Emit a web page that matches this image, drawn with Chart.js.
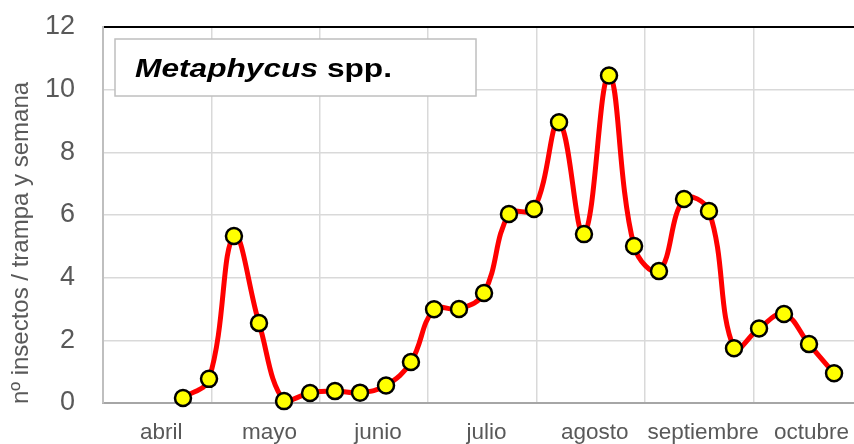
<!DOCTYPE html>
<html>
<head>
<meta charset="utf-8">
<script src="https://cdn.jsdelivr.net/npm/chart.js@4.4.0/dist/chart.umd.min.js"></script>
<style>
  html, body { margin: 0; padding: 0; background: #fff; }
  #wrap { width: 854px; height: 444px; }
</style>
</head>
<body>
<div id="wrap"><canvas id="myChart"></canvas></div>
<script>
// meses (cada mes ocupa una unidad del eje x)
const meses = ['abril', 'mayo', 'junio', 'julio', 'agosto', 'septiembre', 'octubre'];
// posición de cada muestreo semanal (en meses desde el inicio de abril)
const semanas = [0.738, 0.978, 1.208, 1.439, 1.670, 1.910, 2.140, 2.371, 2.611, 2.841,
                 3.054, 3.284, 3.515, 3.745, 3.976, 4.207, 4.437, 4.668, 4.899, 5.129,
                 5.360, 5.590, 5.821, 6.052, 6.282, 6.513, 6.744];
// nº insectos / trampa y semana
const capturas = [0.16, 0.77, 5.33, 2.55, 0.06, 0.32, 0.38, 0.33, 0.56, 1.31,
                  2.99, 3.0, 3.51, 6.03, 6.19, 8.96, 5.39, 10.45, 5.01, 4.21,
                  6.51, 6.13, 1.75, 2.38, 2.84, 1.88, 0.95];
const yTicks = [0, 2, 4, 6, 8, 10, 12];
const tituloY = 'nº insectos / trampa y semana';

const FONT = '"Liberation Sans", Arial, sans-serif';
const GRIS = '#595959';

const puntos = semanas.map((x, i) => ({ x: x, y: capturas[i] }));

const textos = {
  id: 'textos',
  afterDraw(chart) {
    const ctx = chart.ctx;
    ctx.save();
    // titulo del eje y
    ctx.save();
    ctx.translate(21, 243);
    ctx.rotate(-Math.PI / 2);
    ctx.fillStyle = GRIS;
    ctx.font = '24px ' + FONT;
    ctx.textAlign = 'center';
    ctx.textBaseline = 'middle';
    ctx.fillText(tituloY, 0, 0);
    ctx.restore();

    // cuadro con el nombre
    ctx.fillStyle = '#fff';
    ctx.fillRect(115, 39, 361, 57);
    ctx.strokeStyle = '#bfbfbf';
    ctx.lineWidth = 1.5;
    ctx.strokeRect(115, 39, 361, 57);

    ctx.fillStyle = '#000';
    ctx.textBaseline = 'alphabetic';
    const f1 = 'italic bold 26px ' + FONT;
    const f2 = 'bold 26px ' + FONT;
    ctx.font = f1;
    const w1 = ctx.measureText('Metaphycus ').width;
    ctx.font = f2;
    const w2 = ctx.measureText('spp.').width;
    const sx = 257 / (w1 + w2);
    ctx.translate(135, 77);
    ctx.scale(sx, 1);
    ctx.font = f1;
    ctx.fillText('Metaphycus ', 0, 0);
    ctx.font = f2;
    ctx.fillText('spp.', w1, 0);
    ctx.restore();
  }
};

function sinRelleno(axis) {
  axis.paddingLeft = 0;
  axis.paddingRight = 0;
  axis.paddingTop = 0;
  axis.paddingBottom = 0;
}

new Chart(document.getElementById('myChart'), {
  type: 'line',
  data: {
    datasets: [{
      data: puntos,
      borderColor: '#ff0000',
      borderWidth: 5,
      tension: 0.4,
      pointRadius: 8,
      pointHoverRadius: 8,
      pointBackgroundColor: '#ffff00',
      pointBorderColor: '#000',
      pointBorderWidth: 2.5,
      clip: false
    }]
  },
  options: {
    responsive: true,
    maintainAspectRatio: false,
    animation: false,
    layout: { autoPadding: false, padding: { top: 27, right: 0, left: 0, bottom: 0 } },
    plugins: { legend: { display: false }, tooltip: { enabled: false } },
    scales: {
      x: {
        type: 'linear',
        min: 0,
        max: 6.928,
        afterBuildTicks: axis => { axis.ticks = [0, 1, 2, 3, 4, 5, 6].map(v => ({ value: v })); },
        afterFit: axis => { axis.height = 0; sinRelleno(axis); },
        ticks: { display: false },
        grid: { color: '#d9d9d9', lineWidth: 1.5, drawTicks: false },
        border: { display: false }
      },
      xMes: {
        type: 'linear',
        position: 'bottom',
        min: 0,
        max: 6.928,
        afterBuildTicks: axis => { axis.ticks = meses.map((m, i) => ({ value: i + 0.5 })); },
        afterFit: axis => { axis.height = 41; sinRelleno(axis); },
        ticks: {
          callback: (v, i) => meses[i],
          color: GRIS,
          font: { family: FONT, size: 22.5 },
          padding: 16,
          labelOffset: 4,
          maxRotation: 0,
          autoSkip: false
        },
        grid: { display: false, drawTicks: false },
        border: { display: true, color: '#a6a6a6', width: 2 }
      },
      y: {
        min: 0,
        max: 12,
        afterBuildTicks: axis => { axis.ticks = yTicks.map(v => ({ value: v })); },
        afterFit: axis => { axis.width = 103; sinRelleno(axis); },
        ticks: {
          color: GRIS,
          font: { family: FONT, size: 27 },
          padding: 28
        },
        grid: {
          color: c => c.tick && c.tick.value === 12 ? '#000' : '#d9d9d9',
          lineWidth: c => c.tick && c.tick.value === 12 ? 2 : 1.5,
          drawTicks: false
        },
        border: { display: true, color: '#bfbfbf', width: 2 }
      }
    }
  },
  plugins: [textos]
});
</script>
</body>
</html>
